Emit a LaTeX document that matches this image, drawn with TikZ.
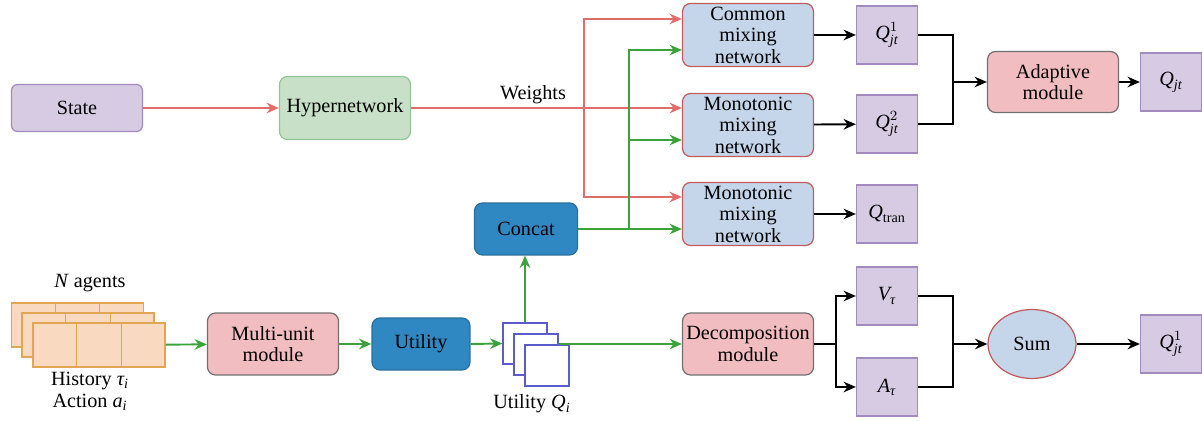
\documentclass[tikz,border=0pt]{standalone}
\usepackage{amsmath}
\usepackage{fontspec}
\setmainfont{Liberation Serif}
\usepackage{tikz}
\usetikzlibrary{shapes.geometric}
\usetikzlibrary{arrows.meta, positioning, calc}
\definecolor{lilac}{HTML}{D7CBE3}
\definecolor{lilacedge}{HTML}{A38BC0}
\definecolor{mint}{HTML}{C8E0C8}
\definecolor{mintedge}{HTML}{93C593}
\definecolor{skyfill}{HTML}{C5D6EB}
\definecolor{skyedge}{HTML}{C25C5C}
\definecolor{deepblue}{HTML}{2F88C2}
\definecolor{deepedge}{HTML}{2A6E9E}
\definecolor{rose}{HTML}{F2BDC1}
\definecolor{roseedge}{HTML}{707070}
\definecolor{peach}{HTML}{F9D9BF}
\definecolor{peachedge}{HTML}{E2A552}
\definecolor{stackedge}{HTML}{5B5BC9}
\definecolor{redline}{HTML}{E06C6C}
\definecolor{greenline}{HTML}{3CA33C}
\newcommand{\mi}[1]{\textit{#1}}

\begin{document}
\begin{tikzpicture}[x=0.02cm, y=-0.02cm, font=\fontsize{11.5}{12.2}\selectfont,
    box/.style={draw, rounded corners=0.16cm, align=center, line width=0.7pt, inner sep=0pt},
    statebox/.style={box, rounded corners=0.12cm, fill=lilac, draw=lilacedge, minimum width=2.62cm, minimum height=0.94cm},
    hyperbox/.style={box, fill=mint, draw=mintedge, minimum width=2.62cm, minimum height=1.26cm},
    mixbox/.style={box, fill=skyfill, draw=skyedge, minimum width=2.62cm, minimum height=1.26cm},
    bluebox/.style={box, fill=deepblue, draw=deepedge},
    pinkbox/.style={box, fill=rose, draw=roseedge, minimum width=2.62cm, minimum height=1.24cm},
    qbox/.style={draw=lilacedge, fill=lilac, line width=0.7pt, minimum width=1.22cm, minimum height=1.16cm, inner sep=0pt},
    agentbox/.style={draw=peachedge, fill=peach, line width=0.7pt, minimum width=2.64cm, minimum height=0.88cm, inner sep=0pt},
    ubox/.style={draw=stackedge, fill=white, line width=0.7pt, minimum width=0.88cm, minimum height=0.82cm, inner sep=0pt},
    rarrow/.style={draw=redline, line width=1.1pt, -{Stealth[length=7pt, width=6pt]}},
    garrow/.style={draw=greenline, line width=1.1pt, -{Stealth[length=7pt, width=6pt]}},
    barrow/.style={draw=black, line width=1.1pt, -{Stealth[length=7pt, width=6pt]}},
    bline/.style={draw=black, line width=1.1pt}]

    \useasboundingbox (0,0) rectangle (1202,421);

    % Top row
    \node[statebox] (state) at (77,108) {State};
    \node[hyperbox] (hyper) at (345,108) {Hypernetwork};
    \node (weights) at (533,95) {Weights};

    % Mixing networks
    \node[mixbox] (common) at (748,35) {Common\\mixing\\network};
    \node[mixbox] (mono1) at (748,125) {Monotonic\\mixing\\network};
    \node[mixbox] (mono2) at (748,214) {Monotonic\\mixing\\network};

    % Outputs of the mixers
    \node[qbox] (q1) at (887,35) {$\mi{Q}^{1}_{\mi{jt}}$};
    \node[qbox] (q2) at (887,124) {$\mi{Q}^{2}_{\mi{jt}}$};
    \node[qbox] (qtran) at (887,214) {$\mi{Q}_{\text{tran}}$};
    \node[pinkbox, minimum height=1.22cm] (adapt) at (1053,82) {Adaptive\\module};
    \node[qbox] (qjt) at (1171,82) {$\mi{Q}_{\mi{jt}}$};

    % Agents
    \node (nagents) at (90,283) {\mi{N} agents};
    \foreach \i/\cx/\cy in {0/77.5/325, 1/88/335, 2/99/345} {
        \node[agentbox] (ag\i) at (\cx,\cy) {};
        \draw[peachedge, line width=0.7pt] ($(ag\i.north west)!1/3!(ag\i.north east)$) -- ($(ag\i.south west)!1/3!(ag\i.south east)$);
        \draw[peachedge, line width=0.7pt] ($(ag\i.north west)!2/3!(ag\i.north east)$) -- ($(ag\i.south west)!2/3!(ag\i.south east)$);
    }
    \node (history) at (90,381) {History $\mi{τ}_{\mi{i}}$};
    \node (action) at (90,402) {Action $\mi{a}_{\mi{i}}$};

    % Bottom row
    \node[pinkbox] (multi) at (273,344) {Multi-unit\\module};
    \node[bluebox, minimum width=1.96cm, minimum height=1.04cm] (utility) at (421,344) {Utility};
    \node[bluebox, minimum width=2.06cm, minimum height=1.04cm] (concat) at (526,229) {Concat};
    \node[ubox] (u1) at (525,343.5) {};
    \node[ubox] (u2) at (536,354.5) {};
    \node[ubox] (u3) at (547,365.5) {};
    \node (uq) at (532,404) {Utility $\mi{Q}_{\mi{i}}$};
    \node[pinkbox] (decomp) at (748,344) {Decomposition\\module};
    \node[qbox] (v) at (887,296) {$\mi{V}_{\mi{τ}}$};
    \node[qbox] (a) at (887,387) {$\mi{A}_{\mi{τ}}$};
    \node[ellipse, draw=skyedge, fill=skyfill, line width=0.7pt, minimum width=1.76cm, minimum height=1.38cm, inner sep=0pt] (sum) at (1032,344) {Sum};
    \node[qbox] (qout) at (1171,344) {$\mi{Q}^{1}_{\mi{jt}}$};

    % Split points
    \coordinate (rsplit) at (584,108);
    \coordinate (gsplit) at (629,229);
    \coordinate (qjoin) at (953,82);
    \coordinate (dsplit) at (836,344);
    \coordinate (vjoin) at (953,344);

    % Red edges
    \draw[rarrow] (state) -- (hyper);
    \draw[rarrow] (hyper.east) -- (hyper.east -| mono1.west);
    \draw[rarrow] (rsplit) |- ([yshift=0.32cm]common.west);
    \draw[rarrow] (rsplit) |- ([yshift=0.34cm]mono2.west);

    % Green edges
    \draw[garrow] (ag2) -- (multi);
    \draw[garrow] (multi) -- (utility);
    \draw[garrow] (utility.east) -- (u1.west);
    \draw[garrow] (u1.north) -- (u1.north |- concat.south);
    \draw[garrow] (u2.east |- decomp.west) -- (decomp.west);
    \draw[garrow] (concat.east) -- (concat.east -| mono2.west);
    \draw[garrow] (gsplit) |- ([yshift=-0.3cm]common.west);
    \draw[garrow] (gsplit) |- ([yshift=-0.3cm]mono1.west);

    % Black edges
    \draw[barrow] (common) -- (q1);
    \draw[barrow] (mono1) -- (q2);
    \draw[barrow] (mono2) -- (qtran);
    \draw[bline] (q1.east) -| (qjoin);
    \draw[bline] (q2.east) -| (qjoin);
    \draw[barrow] (qjoin) -- (adapt.west);
    \draw[barrow] (adapt) -- (qjt);
    \draw[bline] (decomp.east) -- (dsplit);
    \draw[barrow] (dsplit) |- (v.west);
    \draw[barrow] (dsplit) |- (a.west);
    \draw[bline] (v.east) -| (vjoin);
    \draw[bline] (a.east) -| (vjoin);
    \draw[barrow] (vjoin) -- (sum.west);
    \draw[barrow] (sum) -- (qout);
\end{tikzpicture}
\end{document}
